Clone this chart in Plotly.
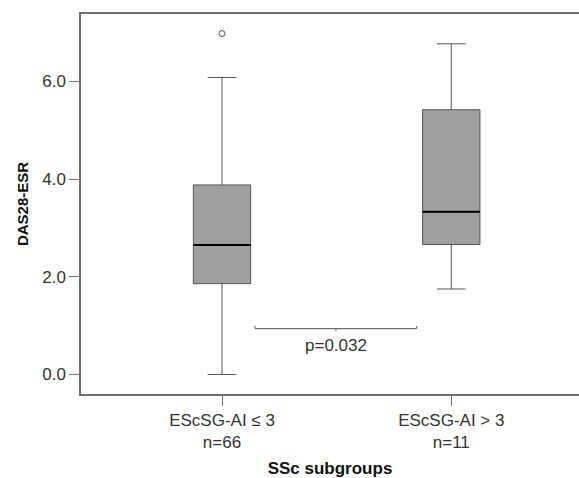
import plotly.graph_objects as go

# ---------------- data ----------------
categories = ["EScSG-AI \u2264 3", "EScSG-AI > 3"]
n_counts = [66, 11]
q1_vals = [1.86, 2.66]
median_vals = [2.65, 3.33]
q3_vals = [3.88, 5.42]
lower_whisker = [0.0, 1.75]
upper_whisker = [6.08, 6.77]
outlier_group = [0]
outlier_vals = [6.98]
y_tick_vals = [0.0, 2.0, 4.0, 6.0]
p_value = 0.032
x_title = "SSc subgroups"
y_title = "DAS28-ESR"

# ---------------- style ----------------
BOX_W = 0.25
FILL = "#a0a0a0"
LINE = "#555555"
AXIS = "#6e6e6e"
FONT = "Liberation Sans, Arial, sans-serif"
BRACKET_X = (0.144, 1 - 0.151)
BRACKET_Y = 0.94

xpos = list(range(len(categories)))
ticktext = [f"{c}<br>n={n}" for c, n in zip(categories, n_counts)]

fig = go.Figure()
fig.add_trace(go.Box(
    x=xpos, q1=q1_vals, median=median_vals, q3=q3_vals,
    lowerfence=lower_whisker, upperfence=upper_whisker,
    width=BOX_W, whiskerwidth=0.5, boxpoints=False,
    fillcolor=FILL, line=dict(color=LINE, width=1),
    showlegend=False, hoverinfo="skip",
))
for i, m in zip(xpos, median_vals):
    fig.add_trace(go.Scatter(
        x=[i - BOX_W / 2, i + BOX_W / 2], y=[m, m], mode="lines",
        line=dict(color="black", width=2), showlegend=False, hoverinfo="skip",
    ))
fig.add_trace(go.Scatter(
    x=[xpos[g] for g in outlier_group], y=outlier_vals, mode="markers",
    marker=dict(symbol="circle-open", size=6, color=LINE, line=dict(width=1)),
    showlegend=False, hoverinfo="skip",
))

# significance bracket
bx0, bx1 = BRACKET_X
bxm = (bx0 + bx1) / 2
br_color = "#707070"
fig.add_shape(type="line", x0=bx0, x1=bx1, y0=BRACKET_Y, y1=BRACKET_Y,
              line=dict(color=br_color, width=1.2))
fig.add_shape(type="line", x0=bx0, x1=bx0, y0=BRACKET_Y, y1=BRACKET_Y + 0.05,
              line=dict(color=br_color, width=1.2))
fig.add_shape(type="line", x0=bx1, x1=bx1, y0=BRACKET_Y, y1=BRACKET_Y + 0.05,
              line=dict(color=br_color, width=1.2))
fig.add_shape(type="line", x0=bxm, x1=bxm, y0=BRACKET_Y, y1=BRACKET_Y - 0.05,
              line=dict(color=br_color, width=1.2))
fig.add_annotation(x=bxm, y=BRACKET_Y, yshift=-17, text=f"p={p_value:.3f}",
                   showarrow=False, font=dict(size=17, color="#333333", family=FONT))

fig.update_layout(
    width=579, height=478,
    margin=dict(l=81, r=0, t=14, b=84),
    paper_bgcolor="white", plot_bgcolor="white",
    font=dict(family=FONT, color="#333333", size=17),
)
fig.update_xaxes(
    range=[-0.615, 1.557], tickvals=xpos, ticktext=ticktext,
    showline=True, linecolor=AXIS, linewidth=1.5, mirror=True,
    ticks="outside", ticklen=10, tickcolor=AXIS, tickwidth=1.2,
    showgrid=False, zeroline=False,
    tickfont=dict(size=17, color="#333333"),
    title=dict(text=f"<b>{x_title}</b>", font=dict(size=17, color="#111111"), standoff=12),
)
fig.update_yaxes(
    range=[-0.40, 7.38], tickvals=y_tick_vals, tickformat=".1f",
    showline=True, linecolor=AXIS, linewidth=1.5, mirror=False,
    ticks="outside", ticklen=10, tickcolor=AXIS, tickwidth=1.2,
    showgrid=False, zeroline=False,
    tickfont=dict(size=17, color="#333333"),
    title=dict(text=f"<b>{y_title}</b>", font=dict(size=15, color="#111111"), standoff=10),
)

fig.write_html("out.html")
